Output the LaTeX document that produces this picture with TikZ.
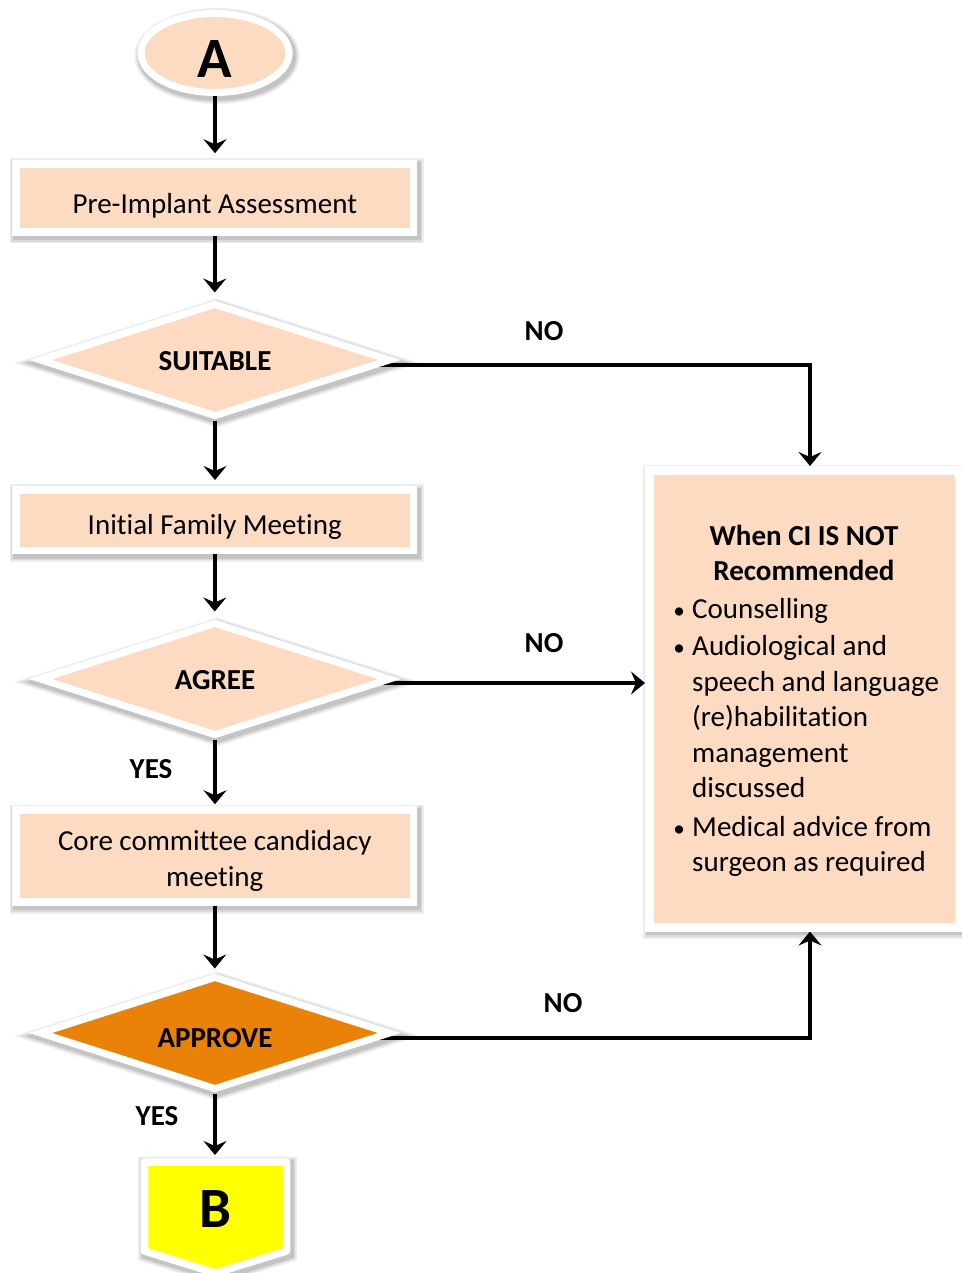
\documentclass[tikz,border=0pt]{standalone}
\usepackage{fontspec}
\setmainfont{Carlito}[Ligatures=NoCommon]
\usetikzlibrary{shapes.geometric,arrows.meta,backgrounds,calc}
\definecolor{peach}{RGB}{252,219,194}
\definecolor{approveorange}{RGB}{234,130,10}
\definecolor{byellow}{RGB}{255,255,0}
% lower a node's text without changing the size the node sees
\newcommand{\sinktext}[2]{\raisebox{-#1}[\height][\depth]{#2}}
% small list bullet in a fixed-width slot
\newcommand{\listdot}{\makebox[16pt]{\scalebox{0.8}{\textbullet}}}

\begin{document}
\begin{tikzpicture}[x=1pt,y=-1pt,
  every node/.style={font=\fontsize{29}{35.5}\selectfont},
  halo/.style={
    preaction={draw=black,draw opacity=0.07,line width=17pt,transform canvas={xshift=2pt,yshift=-3pt}},
    preaction={draw=black,draw opacity=0.08,line width=13.5pt,transform canvas={xshift=2pt,yshift=-3pt}},
    preaction={draw=black,draw opacity=0.10,line width=10.5pt,transform canvas={xshift=2pt,yshift=-3pt}}},
  stepbox/.style={rectangle,fill=peach,draw=white,line width=7.5pt,minimum width=397.5pt,
    inner sep=0pt,align=center,halo},
  decision/.style={diamond,aspect=3,fill=peach,draw=white,line width=7pt,minimum width=352pt,
    minimum height=114pt,inner sep=0pt,halo,font=\fontsize{29}{35.5}\selectfont\bfseries},
  bigletter/.style={inner sep=0pt,text depth=0pt,font=\fontsize{57}{60}\selectfont\bfseries},
  tag/.style={inner sep=0pt,font=\fontsize{29}{35.5}\selectfont\bfseries},
  arr/.style={line width=4pt,-{Stealth[length=14pt,width=23pt,inset=5pt]}},
]
\useasboundingbox (0,0) rectangle (961,1273);

% terminal A
\node[ellipse,fill=peach,draw=white,line width=7pt,minimum width=148pt,minimum height=79pt,
  inner sep=0pt,halo] (a) at (215,53) {};
\node[bigletter] (atext) at (215,59) {A};

% main column
\node[stepbox,minimum height=68pt] (pre) at (214.75,198) {\sinktext{8pt}{Pre-Implant Assessment}};
\node[decision] (sui) at (215,360) {\sinktext{1pt}{SUITABLE}};
\node[stepbox,minimum height=60.5pt] (fam) at (214.75,520) {\sinktext{7pt}{Initial Family Meeting}};
\node[decision] (agr) at (215,679) {\sinktext{1.5pt}{AGREE}};
\node[stepbox,minimum height=92pt] (core) at (214.75,856)
  {\sinktext{5pt}{\begin{tabular}{@{}c@{}}Core committee candidacy\\[0.5pt]meeting\end{tabular}}};
\node[decision,fill=approveorange] (app) at (215,1033) {\sinktext{5.5pt}{APPROVE}};

% terminal B
\path[fill=byellow,draw=white,line width=7.5pt,line join=round,halo]
  (144.5,1162) -- (286.5,1162) -- (286.5,1251) -- (215.5,1273) -- (144.5,1251) -- cycle;
\node[bigletter] (btext) at (215,1209) {B};
\coordinate (btop) at (215,1158);

% outcome box
\node[rectangle,fill=peach,draw=white,line width=9pt,minimum width=310pt,minimum height=456.5pt,
  inner sep=0pt,halo] (ci) at (804.5,698.75) {};
\node[inner sep=0pt,anchor=base,font=\fontsize{29}{35.5}\selectfont\bfseries] (cititle) at (804,545)
  {\begin{tabular}[t]{@{}c@{}}When CI IS NOT\\Recommended\end{tabular}};
\node[inner sep=0pt,anchor=base west] (cilist) at (671,618)
  {\begin{tabular}[t]{@{}l@{\hspace{5pt}}l@{}}
   \listdot & Counselling\\[2pt]
   \listdot & Audiological and\\
    & speech and language\\
    & (re)habilitation\\
    & management\\
    & discussed\\[3pt]
   \listdot & Medical advice from\\
    & surgeon as required
  \end{tabular}};

% labels
\node[tag] (no1) at (544,331) {NO};
\node[tag] (no2) at (544,643) {NO};
\node[tag] (no3) at (563,1003) {NO};
\node[tag] (yes1) at (151,769) {YES};
\node[tag] (yes2) at (157,1116) {YES};

% connectors down the main column
\draw[arr,shorten >=7pt] (a.south) -- (a.south |- pre.north);
\draw[arr,shorten >=7pt] (pre.south) -- (pre.south |- sui.north);
\draw[arr,shorten >=6pt] (sui.south) -- (sui.south |- fam.north);
\draw[arr,shorten >=7pt] (fam.south) -- (fam.south |- agr.north);
\draw[arr,shorten >=2pt] (agr.south) -- (agr.south |- core.north);
\draw[arr,shorten >=4pt] (core.south) -- (core.south |- app.north);
\draw[arr,shorten >=3pt] (app.south) -- (btop);

% NO branches, starting beneath the decisions
\begin{scope}[on background layer]
\draw[arr] ([yshift=-5pt]sui.center) -| ([xshift=5.5pt]ci.north);
\draw[arr] ([yshift=-4pt]agr.center) -- ([yshift=-4pt]agr.center -| ci.west);
\draw[arr] ([yshift=-5pt]app.center) -| ([xshift=5.5pt]ci.south);
\end{scope}
\end{tikzpicture}
\end{document}
